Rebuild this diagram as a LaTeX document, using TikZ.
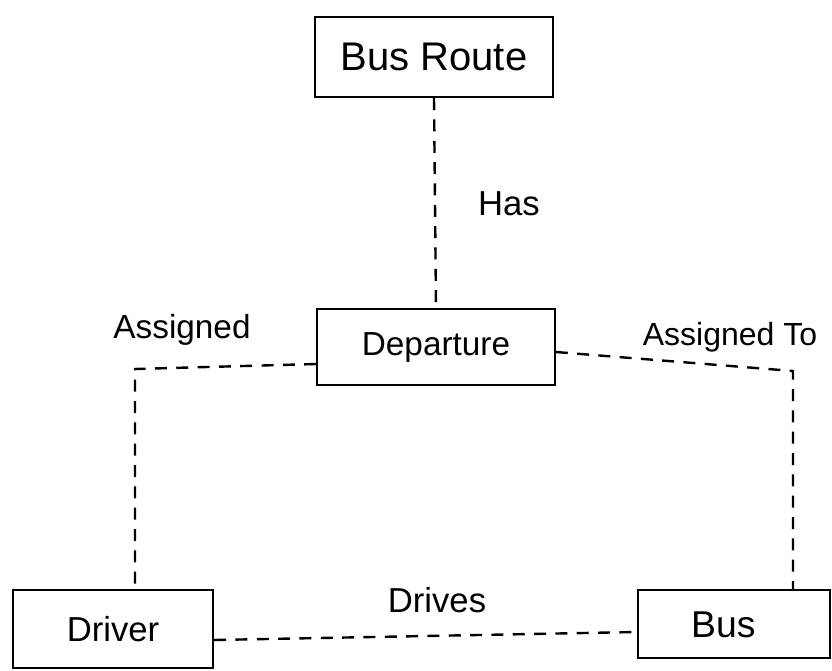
\documentclass[tikz,border=0pt]{standalone}
\usepackage{fontspec}
\setmainfont{Liberation Sans}
\begin{document}
\begin{tikzpicture}[x=0.75pt,y=-0.75pt,
  entity/.style={draw=black, line width=1.7pt, inner sep=0pt, fill=white},
  rel/.style={draw=black, line width=1.8pt, dash pattern=on 9pt off 7pt},
  lbl/.style={inner sep=0pt, font=\fontsize{26}{28}\selectfont}]
  \useasboundingbox[fill=white] (0,0) rectangle (832,671);

  % entities
  \node[entity, minimum width=178pt, minimum height=60pt, font=\fontsize{30}{32}\selectfont] (route) at (434,57) {Bus Route};
  \node[entity, minimum width=178pt, minimum height=57pt, font=\fontsize{25}{27}\selectfont] (dep) at (436,347) {Departure};
  \node[entity, minimum width=150pt, minimum height=58pt, font=\fontsize{26}{28}\selectfont,
        text height=19pt, text depth=0pt] (driver) at (113,629) {Driver};
  \node[entity, minimum width=144pt, minimum height=51pt, font=\fontsize{28}{30}\selectfont,
        text height=20pt, text depth=0pt, xshift=0pt] (bus) at (734,624) {\hspace*{-16pt}Bus};

  % bend points of the assignment links
  \coordinate (lc) at (135,369);
  \coordinate (rc) at (793,371);

  % relationships
  \draw[rel] (route.south) -- (dep.north);
  \draw[rel] (dep.west |- 0,364) -- (lc) -- (driver.north -| lc);
  \draw[rel] (dep.east |- 0,352) -- (rc) -- (bus.north -| rc);
  \draw[rel] (driver.east |- 0,640) -- (bus.west |- 0,632);

  % relationship names
  \node[lbl] (has) at (509,204) {Has};
  \node[lbl, font=\fontsize{25}{27}\selectfont] (asg1) at (182,330) {Assigned};
  \node[lbl, font=\fontsize{24}{26}\selectfont] (asg2) at (730,337) {Assigned To};
  \node[lbl] (drives) at (437,600) {Drives};
\end{tikzpicture}
\end{document}
